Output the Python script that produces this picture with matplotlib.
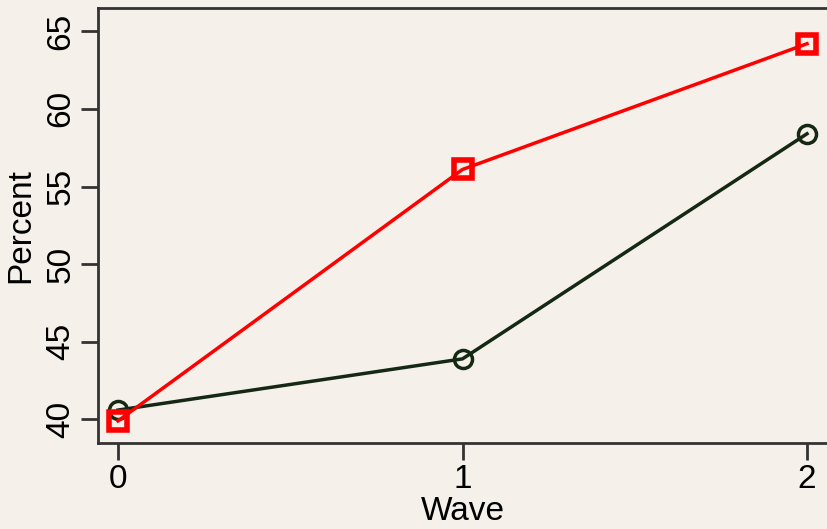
import matplotlib.pyplot as plt

waves = [0, 1, 2]
green_pct = [40.6, 43.9, 58.4]
red_pct = [39.9, 56.1, 64.2]
yticks = [40, 45, 50, 55, 60, 65]

bg = "#f5f0ea"
plt.rcParams["font.family"] = ["Liberation Sans", "DejaVu Sans"]

fig = plt.figure(figsize=(8.27, 5.29), dpi=100, facecolor=bg)
ax = fig.add_axes([98 / 827, 1 - 443 / 529, 1 - 98 / 827, (443 - 8) / 529])
ax.set_facecolor(bg)

ax.plot(waves, green_pct, color="#142814", lw=2.5, marker="o", ms=13,
        mfc="none", mew=2.5, zorder=3)
ax.plot(waves, red_pct, color="#ff0000", lw=2.5, marker="s", ms=13,
        mfc="none", mew=4, zorder=4)

ax.set_xlim(-0.058, 2.058)
ax.set_ylim(38.48, 66.5)
ax.set_xticks(waves)
ax.set_yticks(yticks)
ax.tick_params(axis="both", direction="out", length=12, width=2,
               labelsize=24, color="#333333")
ax.tick_params(axis="x", pad=3)
plt.setp(ax.get_yticklabels(), rotation=90, va="center")

for s in ["left", "bottom", "top"]:
    ax.spines[s].set_linewidth(2)
    ax.spines[s].set_color("#333333")
ax.spines["right"].set_visible(False)

ax.set_ylabel("Percent", fontsize=24, labelpad=7)
ax.set_xlabel("Wave", fontsize=24, labelpad=1)

fig.savefig("out.png", dpi=100, facecolor=bg)
